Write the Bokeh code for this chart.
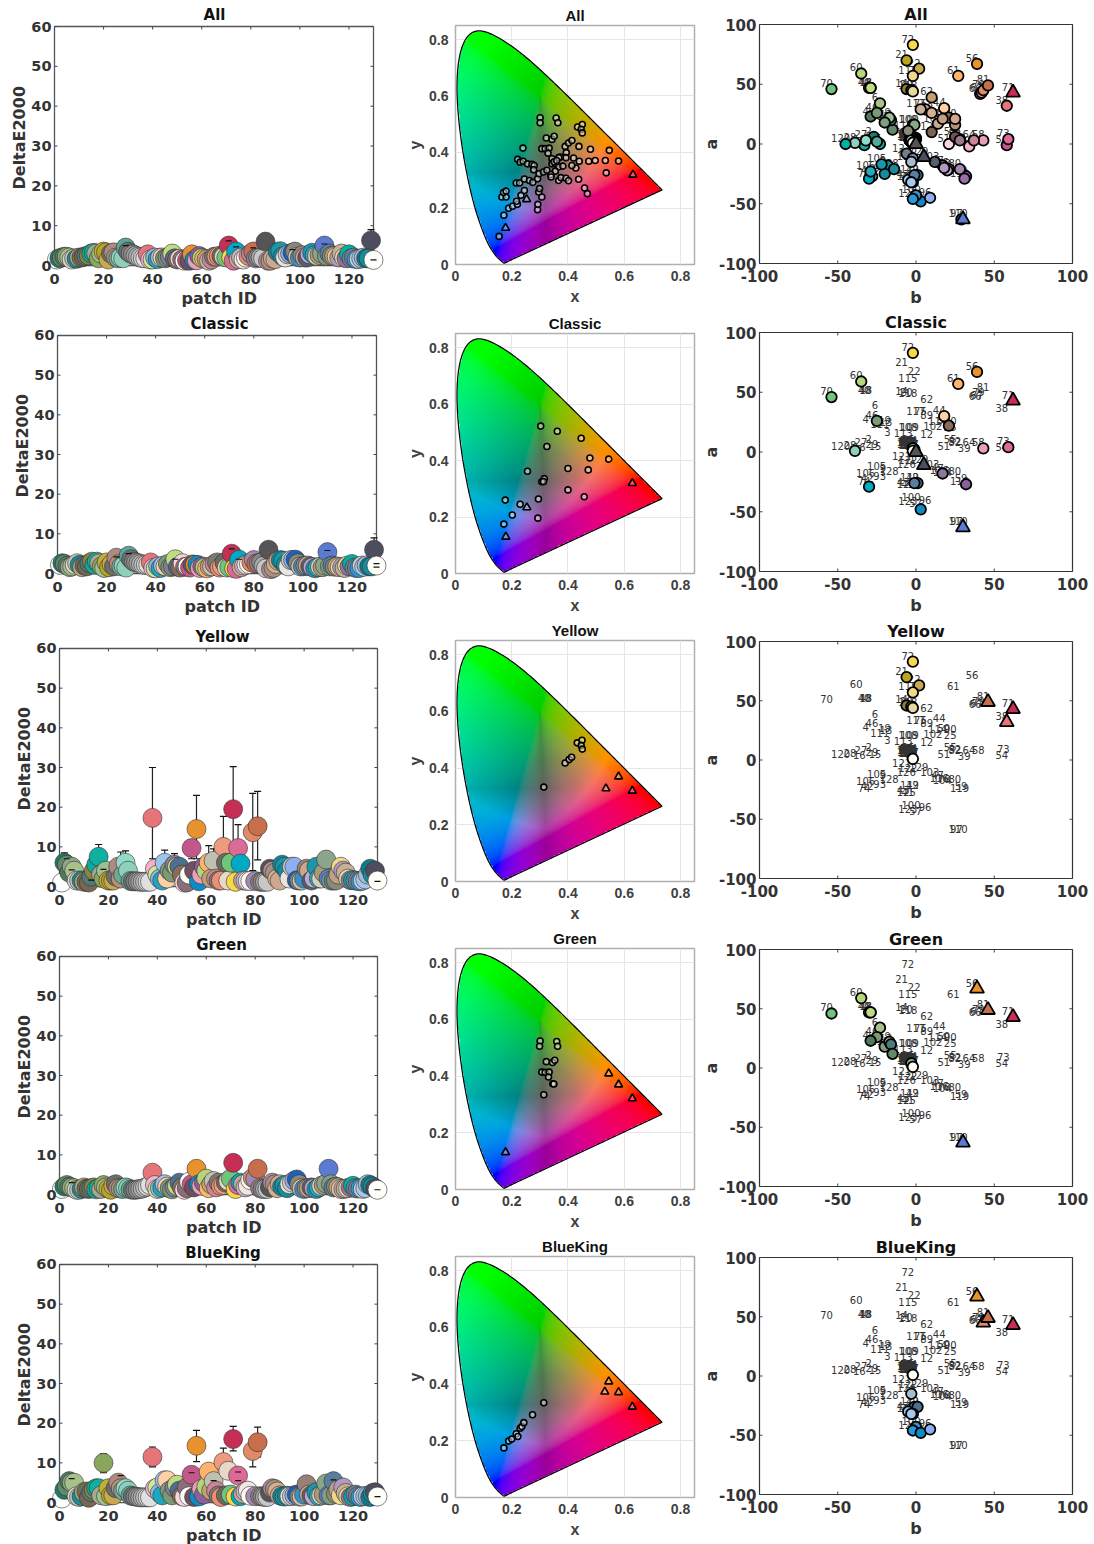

import numpy as np
from bokeh.embed import file_html
from bokeh.resources import INLINE
from bokeh.layouts import column, row
from bokeh.models import FixedTicker, ColumnDataSource, Range1d, Title
from bokeh.plotting import figure
from bokeh.core.properties import value

PANELS = ["All", "Classic", "Yellow", "Green", "BlueKing"]
XTICKS_ID = [0, 20, 40, 60, 80, 100, 120]
YTICKS_DE = [0, 10, 20, 30, 40, 50, 60]
TICKS_XY = [0, 0.2, 0.4, 0.6, 0.8]
TICKS_LAB = [-100, -50, 0, 50, 100]

PATCH_B = [
 -2,-27,-15,-29,-3,-23,-1,-2,-18,-4,
 -3,10,-16,-6,-23,-33,-2,-29,-17,-3,
 -6,2,-3,0,25,-2,-32,-39,-25,-2,
 -1,-3,0,-2,-4,-1,-3,58,34,-30,
 -2,-28,-5,18,-4,-25,17,-29,1,21,
 21,28,-1,58,25,39,3,43,32,-35,
 27,10,-1,37,-2,41,42,-3,-1,-54,
 62,-2,59,-30,6,21,-2,-1,43,28,
 46,28,-3,-2,-1,0,-4,-3,10,25,
 -3,-2,-20,-1,-2,9,29,-4,-3,0,
 -2,14,12,20,-22,-29,-3,-2,-1,30,
 -20,-1,-5,17,-2,18,3,-2,31,-45,
 -6,-2,-2,-3,-3,-3,-1,-14,5,-2]
PATCH_A = [
 1,6,12,23,4,34,2,3,-18,3,
 4,10,20,46,0,-1,3,47,22,45,
 70,63,2,5,16,6,3,1,2,4,
 3,2,4,1,3,2,5,32,-2,47,
 -32,-27,-30,30,4,26,-18,47,-26,22,
 0,4,1,-1,6,67,-48,3,-27,59,
 57,39,3,3,4,42,43,2,4,46,
 43,83,4,-29,29,-21,3,2,45,-21,
 49,3,2,4,1,0,3,5,26,21,
 4,2,-25,3,1,-45,-63,3,5,-43,
 4,17,-15,-22,-17,-23,2,16,16,-63,
 18,-26,11,21,57,-20,29,44,-29,0,
 -8,-12,-46,3,-32,-15,2,-21,-11,1]
PATCH_COLOR = [
 "#ffffff","#1f7a68","#63886a","#4f7a5c","#8fa88a","#a8c08a","#d8d8d0","#c8c8b8","#178a9c","#b0a878",
 "#6e6e58","#7a6555","#4f7a78","#8f8240","#13a898","#10b0a0","#a8a890","#8aa55c","#9cc090","#bfae3a",
 "#b9a520","#c9a94f","#6e6e68","#b08a80","#b78f78","#70a898","#8fdcc8","#8fd0bc","#58a89a","#707070",
 "#808080","#909090","#a0a0a0","#b0b0b0","#c0c0c0","#d0d0d0","#e0e0e0","#e6757a","#f2b3c8","#d0e89a",
 "#90b8e0","#1fa5bd","#9cc4ec","#ffcfa8","#7a9a80","#7a9a70","#8a7a9a","#c0dc80","#4d7090","#8a6a58",
 "#fbd5dc","#8a6f78","#fffdf8","#c2578a","#704f60","#e8922e","#0f8bc4","#e8a0b8","#8a5f9a","#b6d57a",
 "#ffb46e","#c4a070","#c0c0b0","#cc8499","#7a7a70","#ec8f74","#ee9a7e","#6a6a60","#e8d8c8","#6fc67a",
 "#c52f55","#f7d84a","#dd6a96","#00a9c4","#c9a98c","#c8b0d4","#f0e8e0","#fff8f0","#e08a68","#a08ab0",
 "#c76f4c","#9a7a88","#888888","#a8a8a8","#c8c8c8","#555555","#b08898","#a89080","#d4b090","#d0a890",
 "#11879a","#1a98a8","#148ca0","#e8e4e0","#d0ccc4","#8fb0f0","#1f60b8","#888878","#c8c0a8","#3a90c8",
 "#988078","#c8a890","#555e6e","#c0a8d0","#1c97aa","#2aa8c0","#d8d0b8","#a89a78","#8aa58a","#5b7bd0",
 "#7f9f82","#5a7e9e","#8a8a78","#c0a088","#f0d78a","#b09ac0","#c8b098","#e8d9a0","#9a6fa8","#00b0a0",
 "#708090","#70849a","#2a98d8","#c8d0d8","#a4c8ee","#a8bcd0","#0e7a8c","#188a98","#4d4d5e","#fffffa"]

DE_ALL = [
 1.5,1.8,2.0,2.2,2.2,2.0,1.5,1.8,1.7,2.0,
 2.0,2.2,2.4,2.5,3.0,3.2,3.0,1.8,3.0,3.5,
 3.3,1.5,3.0,3.3,2.0,1.8,2.0,1.8,4.5,3.5,
 3.0,2.8,2.5,2.2,2.0,1.8,1.8,2.8,1.5,1.5,
 2.0,1.6,2.0,2.0,1.8,2.0,2.2,3.0,1.8,1.5,
 1.7,1.5,1.2,1.3,1.2,2.8,1.4,1.3,2.4,1.9,
 1.7,1.6,1.2,1.5,2.2,2.2,2.4,2.4,2.2,2.0,
 5.0,2.0,1.2,3.5,1.6,2.0,1.5,2.0,2.4,3.0,
 3.5,1.8,2.0,2.0,1.8,6.0,1.2,1.2,1.8,1.6,
 3.4,3.6,2.3,2.0,2.8,3.0,3.2,3.5,2.2,2.0,
 2.6,2.0,2.0,2.8,3.2,2.6,2.4,2.6,3.0,5.0,
 2.4,3.0,2.4,2.4,2.2,2.0,3.0,2.0,1.8,2.8,
 1.8,2.0,1.6,1.6,1.8,2.0,1.8,1.8,6.3,1.4]
DE_CLASSIC = [
 2.2,2.6,2.4,2.0,1.6,1.8,2.2,2.6,2.2,1.6,
 2.0,1.8,2.6,3.0,2.2,3.0,2.6,1.8,1.4,2.8,
 1.6,2.4,1.8,4.0,2.4,1.8,2.0,1.5,4.5,3.6,
 3.0,2.8,2.6,2.4,2.2,2.2,2.2,2.8,1.4,1.3,
 1.8,1.4,2.0,1.8,2.4,1.6,1.8,3.6,1.7,1.5,
 2.6,1.7,1.8,1.5,2.3,2.2,2.2,1.4,1.8,1.5,
 1.3,1.7,1.8,2.4,2.8,1.5,1.8,2.8,1.5,1.6,
 5.0,1.3,1.2,3.5,1.6,2.0,2.2,2.4,2.8,3.4,
 2.5,2.6,2.8,2.0,1.3,6.0,1.1,1.4,2.4,3.2,
 3.4,3.2,2.2,1.8,3.4,3.4,3.5,2.6,1.8,1.8,
 2.0,2.0,1.8,1.6,1.3,1.6,1.7,1.6,2.0,5.4,
 1.8,2.0,1.7,1.8,1.6,1.6,1.4,2.0,1.8,2.4,
 1.5,1.4,1.4,2.0,1.7,2.1,1.8,1.8,6.0,2.0]
DE_YELLOW = [
 1.0,6.0,5.5,3.5,5.0,4.0,1.5,1.5,1.5,1.2,
 1.2,1.0,2.5,4.0,5.5,7.5,3.0,2.0,4.0,1.5,
 1.5,1.5,2.5,5.0,2.0,3.0,6.0,4.0,1.4,1.3,
 1.3,1.3,1.2,1.2,1.2,1.2,1.2,17.3,4.5,3.0,
 2.0,1.5,6.0,2.0,4.0,3.5,5.5,5.0,5.0,3.0,
 1.0,1.0,3.0,9.7,4.0,14.5,1.3,3.0,5.0,4.0,
 6.0,2.0,6.5,2.0,1.5,1.5,10.0,6.0,1.5,6.0,
 19.5,1.2,9.7,5.8,1.5,1.5,1.4,1.4,13.7,1.4,
 15.2,1.2,1.2,1.2,1.2,4.5,4.0,3.5,2.0,1.5,
 5.5,5.0,4.0,2.0,5.0,5.0,1.6,1.5,1.5,2.0,
 4.5,4.0,1.5,2.0,5.0,2.0,2.0,3.5,6.8,2.0,
 1.5,1.5,1.5,3.0,5.0,4.0,3.5,2.0,1.6,1.6,
 1.5,1.4,1.3,1.5,1.8,3.0,4.5,3.0,4.0,1.5]
DE_GREEN = [
 1.4,2.0,2.4,2.0,1.8,1.6,1.2,1.2,1.4,1.8,
 1.5,1.4,1.6,1.8,1.3,1.6,1.4,2.4,1.8,1.5,
 1.2,2.2,2.6,1.6,1.5,1.4,1.8,1.6,1.3,1.2,
 1.2,1.3,1.4,1.5,1.8,2.0,2.4,5.5,2.4,1.4,
 1.6,1.8,2.6,2.0,1.6,1.3,1.8,2.2,3.0,1.8,
 1.2,1.6,3.2,2.6,1.8,6.5,2.6,2.2,3.0,4.0,
 1.6,2.6,3.4,1.8,3.0,2.2,2.4,3.0,3.4,4.0,
 8.0,1.4,2.4,3.0,2.6,1.8,2.2,3.6,4.2,4.0,
 6.5,1.6,1.4,1.4,1.4,1.8,3.0,2.6,1.6,2.6,
 2.0,2.4,1.6,2.6,3.0,3.5,3.8,2.6,1.6,1.4,
 1.6,1.6,1.8,1.6,1.4,1.8,2.2,2.4,2.8,6.5,
 2.6,1.8,2.0,1.8,1.4,1.4,1.5,1.6,1.8,2.2,
 1.6,1.5,1.6,1.4,1.6,2.6,2.4,2.0,1.6,1.2]
DE_BLUEKING = [
 1.0,3.2,4.0,5.4,5.0,5.0,1.6,1.4,1.6,2.6,
 2.8,1.2,2.6,3.2,3.6,3.6,1.8,10.0,1.6,3.6,
 1.8,1.8,3.6,5.0,3.6,3.0,3.6,3.0,1.8,1.6,
 1.5,1.4,1.3,1.3,1.3,1.3,1.3,11.5,3.5,3.8,
 2.4,1.8,5.6,5.6,3.0,1.8,3.8,4.5,3.0,1.6,
 1.4,3.8,1.6,7.0,1.4,14.3,1.5,3.4,2.0,4.0,
 7.8,3.0,5.4,3.0,1.8,1.4,10.2,1.8,8.0,2.0,
 16.0,1.5,6.8,1.6,2.2,2.8,3.0,1.7,13.0,1.6,
 15.2,1.6,1.5,1.4,1.4,2.5,3.6,3.4,2.8,1.8,
 1.6,1.5,1.7,1.6,1.6,1.8,2.0,1.5,1.5,2.0,
 4.6,2.0,1.8,1.6,2.6,1.6,1.8,2.0,4.8,1.8,
 1.8,5.4,2.2,3.2,1.8,3.8,2.4,1.6,1.4,1.6,
 2.0,1.6,1.4,1.6,1.6,1.6,1.4,2.4,2.6,1.5]

ERR_IDS = [[86,129],[86,129,110],
           [2,16,25,27,38,43,47,54,56,61,63,67,71,73,79,81],[38,56,71,81],
           [18,38,56,67,71,79,81]]
ERR_LOW = [[5.0,5.5],[5.0,5.5,4.7],
           [4.5,5.0,4.0,5.0,7.0,4.0,5.0,7.0,7.0,4.0,4.5,4.0,9.0,6.0,4.0,6.7],[4.5,5.0,6.5,5.5],
           [7.5,9.0,10.3,8.0,13.0,9.0,11.5]]
ERR_HIGH = [[8.0,9.0],[8.0,9.0,5.8],
            [8.5,10.6,8.7,9.0,30.0,9.2,8.3,9.0,23.0,10.3,9.5,17.7,30.2,15.6,23.5,24.0],[6.5,8.0,9.6,8.0],
            [12.3,14.0,18.2,13.7,19.2,16.0,19.0]]
CAP_IDS = [[29,71,74,81,97,110,130],[24,29,48,71,74,110,130,130],
           [3,5,13,18,130],[5,130],[5,25,54,63,73,73,112,130]]
CAP_VAL = [[5.0,6.2,4.7,4.4,4.0,5.4,1.4],[4.2,5.0,3.6,6.2,3.6,5.8,2.5,1.6],
           [7.0,4.2,1.6,4.3,1.3],[3.0,1.2],[6.0,6.8,7.5,5.5,7.7,5.5,5.7,1.5]]

LAB_CIRCLES = [
 [i for i in range(1, 131) if i not in (71, 86, 110, 129)],
 [72,56,61,60,70,46,44,50,58,73,28,74,49,112,59,47,57,7,8,17,130],
 [72,21,22,115,14,20,118,130],
 [60,18,40,48,70,6,46,4,111,19,13,3,5,130],
 [130,126,112,49,43,41,125,100,123,57,96],
]
LAB_TRIANGLES = [[71,86,110,129],[71,86,110,129],[38,71,81],[56,81,71,110],[56,79,81,71]]

XY_X = [
 [.155,.172,.189,.203,.22,.217,.233,.245,.292,.293,.307,.296,.299,.216,.228,.245,.263,.275,.292,.165,.18,.171,.18,.221,.23,.241,.256,.272,.28,.278,.24,.301,.301,.358,.364,.323,.343,.351,.307,.319,.333,.329,.39,.402,.414,.394,.434,.451,.447,.451,.439,.48,.547,.58,.533,.497,.474,.44,.428,.414,.42,.393,.373,.367,.343,.343,.355,.367,.382,.355,.339,.34,.367,.375,.393,.402,.438,.536,.459,.469,.297,.313,.325,.35,.36],
 [.172,.177,.202,.23,.256,.293,.295,.303,.362,.447,.325,.478,.545,.472,.4,.4,.458,.316,.307,.313],
 [.314,.39,.404,.413,.433,.45,.447,.451],
 [.301,.299,.36,.363,.323,.345,.353,.307,.319,.333,.331,.346,.35,.314],
 [.172,.189,.2,.216,.222,.23,.236,.243,.274,.314],
]
XY_Y = [
 [.10,.175,.2,.207,.214,.225,.246,.263,.195,.214,.24,.258,.27,.29,.29,.304,.299,.292,.305,.24,.24,.256,.261,.374,.364,.367,.358,.356,.352,.337,.414,.522,.504,.521,.504,.45,.445,.456,.412,.412,.414,.396,.42,.432,.441,.398,.489,.498,.481,.468,.42,.41,.406,.368,.37,.37,.367,.367,.343,.352,.379,.38,.382,.38,.376,.358,.358,.347,.35,.332,.32,.311,.299,.309,.307,.298,.303,.326,.272,.252,.323,.329,.335,.365,.37],
 [.175,.26,.207,.245,.362,.196,.264,.522,.504,.479,.45,.409,.405,.367,.372,.296,.272,.336,.325,.326],
 [.333,.418,.43,.438,.489,.498,.48,.467],
 [.524,.505,.522,.505,.451,.448,.456,.414,.413,.414,.397,.373,.372,.334],
 [.175,.199,.206,.225,.215,.244,.25,.264,.292,.334],
]
XY_TRI_X = [[.178,.253,.631],[.179,.254,.629],[.58,.535,.629],[.545,.58,.629,.178],[.545,.531,.58,.629]]
XY_TRI_Y = [[.13,.232,.319],[.13,.234,.32],[.37,.328,.32],[.409,.37,.321,.131],[.409,.373,.371,.32]]

LOCUS_X = [.1741,.1733,.1714,.1689,.1644,.1566,.1440,.1241,.1096,.0913,.0687,.0454,.0235,.0082,.0039,.0139,.0389,.0743,.1142,.1547,.1929,.2296,.2658,.3016,.3373,.3731,.4087,.4441,.4788,.5125,.5448,.5752,.6029,.6270,.6658,.6915,.7079,.7260,.7347]
LOCUS_Y = [.0050,.0048,.0051,.0069,.0109,.0177,.0297,.0578,.0868,.1327,.2007,.2950,.4127,.5384,.6548,.7502,.8120,.8338,.8262,.8059,.7816,.7543,.7243,.6923,.6589,.6245,.5896,.5547,.5202,.4866,.4544,.4242,.3965,.3725,.3340,.3083,.2920,.2740,.2653]

DE_SERIES = [DE_ALL, DE_CLASSIC, DE_YELLOW, DE_GREEN, DE_BLUEKING]
for arr in [PATCH_B, PATCH_A, PATCH_COLOR] + DE_SERIES:
    assert len(arr) == 130, len(arr)
IDS = list(range(1, 131))

# layout in page pixels (page origin at 0, 0)
C1_T = [26, 334, 647, 955, 1263]; C1_B = [265, 573, 886, 1194, 1502]
C1_L = [54, 57, 59, 59, 59]; C1_R = [373, 376, 377, 377, 377]
C2_T = [25, 333, 640, 948, 1256]; C2_B = [264, 573, 881, 1189, 1497]
C3_T = [24, 332, 641, 949, 1257]; C3_B = [263, 571, 878, 1186, 1494]
EXT_L = 11
EXT_RIGHT = [12, 16, 19, 17, 20]
EXT_B = 7
EXT_T = 2
PAGE_BOTTOM = 1544
DARK = "#333333"
COL2_L, COL3_L = 400, 697


def tops(T, gap):
    return [0] + [t - gap for t in T[1:]] + [PAGE_BOTTOM]


def base_fig(xr, yr, L, R, T, B, col_l, col_r, fig_t, fig_b, title, font, tsize, title_standoff):
    p = figure(x_range=Range1d(*xr), y_range=Range1d(*yr), width=col_r - col_l, height=fig_b - fig_t,
               min_border_left=L - col_l, min_border_right=col_r - R,
               min_border_top=T - fig_t, min_border_bottom=fig_b - B,
               output_backend="svg", toolbar_location=None, title=title)
    p.frame_align = False
    p.title.align = "center"
    p.title.text_font = font
    p.title.text_font_size = tsize
    p.title.text_font_style = "bold"
    p.title.text_color = "#111111"
    p.title.standoff = title_standoff
    p.title.text_line_height = 1.0
    p.background_fill_color = "white"
    p.border_fill_color = None
    return p


def style_axis(ax, ticks, font, size, color=DARK):
    ax.ticker = FixedTicker(ticks=ticks)
    ax.major_label_text_font = font
    ax.major_label_text_font_size = size
    ax.major_label_text_font_style = "bold"
    ax.major_label_text_color = color
    ax.minor_tick_line_color = None
    ax.major_tick_in = 0
    ax.major_tick_out = 0
    ax.major_tick_line_color = None
    ax.axis_line_color = None


def side_title(p, text, side, font, color=DARK, align="center", offset=0, standoff=0):
    p.add_layout(Title(text=text, align=align, offset=offset, standoff=standoff, text_font=font,
                       text_font_size="16px", text_font_style="bold", text_color=color,
                       text_line_height=1.0), side)


def de_panel(i):
    L, R, T, B = C1_L[i], C1_R[i], C1_T[i], C1_B[i]
    ys = tops(C1_T, 22)
    ppx = (R - L) / 130
    ppy = (B - T) / 60
    xr = (-EXT_L / ppx, 130 + EXT_RIGHT[i] / ppx)
    yr = (-EXT_B / ppy, 60 + EXT_T / ppy)
    font = "DejaVu Sans"
    p = base_fig(xr, yr, L - EXT_L, R + EXT_RIGHT[i], T - EXT_T, B + EXT_B, 0, COL2_L, ys[i], ys[i + 1],
                 PANELS[i], font, "15px", 1)
    p.outline_line_color = None
    p.grid.visible = False
    for ax, ticks in ((p.xaxis[0], XTICKS_ID), (p.yaxis[0], YTICKS_DE)):
        style_axis(ax, ticks, font, "14.5px")
    p.xaxis[0].major_label_standoff = 1
    p.yaxis[0].major_label_standoff = -8
    # "patch ID" is about 77 px wide and starts left of the label centre
    side_title(p, "patch ID", "below", font, align="left", offset=(L + R) / 2 + 6 - 38.5 - (L - EXT_L))
    side_title(p, "DeltaE2000", "left", font, align="left", offset=B + EXT_B - (T + 163), standoff=0)
    # box and inward ticks
    p.segment([0, 0, 0, 130], [0, 60, 0, 0], [130, 130, 0, 130], [0, 60, 60, 60], line_color="#555555", line_width=1.3)
    dy, dx = 3 / ppy, 3 / ppx
    p.segment(XTICKS_ID, [60] * 7, XTICKS_ID, [60 - dy] * 7, line_color="#444444", line_width=1)
    p.segment(XTICKS_ID, [0] * 7, XTICKS_ID, [dy] * 7, line_color="#444444", line_width=1)
    p.segment([130] * 7, YTICKS_DE, [130 - dx] * 7, YTICKS_DE, line_color="#444444", line_width=1)
    p.segment([0] * 7, YTICKS_DE, [dx] * 7, YTICKS_DE, line_color="#444444", line_width=1)
    ids, low, high = ERR_IDS[i], ERR_LOW[i], ERR_HIGH[i]
    p.segment(ids, low, ids, high, line_color="#222222", line_width=1.2)
    p.scatter(ids, high, marker="dash", size=7, line_color="#111111", line_width=1.2)
    p.scatter(ids, low, marker="dash", size=7, line_color="#111111", line_width=1.2)
    src = ColumnDataSource(dict(x=IDS, y=DE_SERIES[i], c=PATCH_COLOR))
    p.scatter("x", "y", source=src, size=19, fill_color="c", line_color="#333333", line_width=0.6)
    p.scatter(CAP_IDS[i], CAP_VAL[i], marker="dash", size=6, line_color="#111111", line_width=1.2)
    return p


def chaikin(x, y, n=2):
    pts = np.column_stack([x, y])
    for _ in range(n):
        q = 0.75 * pts[:-1] + 0.25 * pts[1:]
        r = 0.25 * pts[:-1] + 0.75 * pts[1:]
        mid = np.empty((2 * len(q), 2))
        mid[0::2] = q
        mid[1::2] = r
        pts = np.vstack([pts[:1], mid, pts[-1:]])
    return pts[:, 0], pts[:, 1]


CURVE_X, CURVE_Y = chaikin(LOCUS_X, LOCUS_Y)
CURVE_X = np.append(CURVE_X, CURVE_X[0])
CURVE_Y = np.append(CURVE_Y, CURVE_Y[0])


def gamut_image():
    n = 340
    xs = np.linspace(0, 0.85, n)
    ys = np.linspace(0, 0.85, n)
    X, Y = np.meshgrid(xs, ys)
    px, py = CURVE_X, CURVE_Y
    inside = np.zeros_like(X, dtype=bool)
    for k in range(len(px) - 1):
        x0, y0, x1, y1 = px[k], py[k], px[k + 1], py[k + 1]
        if y0 == y1:
            continue
        cond = (y0 > Y) != (y1 > Y)
        xint = (x1 - x0) * (Y - y0) / (y1 - y0) + x0
        inside ^= cond & (X < xint)
    yy = np.maximum(Y, 1e-3)
    dist = np.hypot(X - 0.33, Y - 0.33)
    lum = 0.33 + 0.6 * np.maximum(dist - 0.1, 0)
    XX = X / yy * lum
    ZZ = (1 - X - Y) / yy * lum
    R = 3.2406 * XX - 1.5372 * lum - 0.4986 * ZZ
    G = -0.9689 * XX + 1.8758 * lum + 0.0415 * ZZ
    B = 0.0557 * XX - 0.2040 * lum + 1.0570 * ZZ
    rgb = np.clip(np.stack([R, G, B], -1), 0, None)
    m = np.maximum(rgb.max(-1, keepdims=True), 1)
    rgb = rgb / m
    r, g, b = rgb[..., 0], rgb[..., 1], rgb[..., 2]
    magenta = np.minimum(r, b) / np.maximum(np.maximum(r, b), 1e-6)
    cyan = np.minimum(g, b) / np.maximum(np.maximum(g, b), 1e-6)
    dim = (1 - 0.4 * magenta * (1 - g)) * (1 - 0.25 * cyan * (1 - r))
    rgb = np.where(rgb <= 0.0031308, 12.92 * rgb, 1.055 * np.maximum(rgb, 1e-9) ** (1 / 2.4) - 0.055)
    rgb = rgb * dim[..., None]
    img = np.zeros((n, n, 4), dtype=np.uint8)
    img[..., :3] = np.round(np.clip(rgb, 0, 1) * 255).astype(np.uint8)
    img[..., 3] = np.where(inside, 255, 0)
    return img.view(dtype=np.uint32).reshape(n, n)


GAMUT = gamut_image()


def xy_panel(i):
    ys = tops(C2_T, 24)
    font = "Liberation Sans"
    T, B = C2_T[i], C2_B[i]
    p = base_fig((0, 0.85), (0, 0.85), 455, 694, T, B, COL2_L, COL3_L, ys[i], ys[i + 1], PANELS[i], font, "15px", 3)
    p.outline_line_color = "#b0b0b0"
    p.outline_line_width = 1.5
    for ax, ticks in ((p.xaxis[0], TICKS_XY), (p.yaxis[0], TICKS_XY)):
        style_axis(ax, ticks, font, "14px", color="#404040")
        ax.major_label_overrides = {0: "0"}
    p.xaxis[0].major_label_standoff = 6
    p.yaxis[0].major_label_standoff = 7
    side_title(p, "x", "below", font, "#404040", standoff=5)
    side_title(p, "y", "left", font, "#404040", standoff=6)
    p.grid.ticker = FixedTicker(ticks=TICKS_XY)
    p.grid.grid_line_color = "#e6e6e6"
    p.image_rgba(image=[GAMUT], x=0, y=0, dw=0.85, dh=0.85, level="glyph")
    p.line(CURVE_X.tolist(), CURVE_Y.tolist(), line_color="black", line_width=1.2)
    p.scatter(XY_X[i], XY_Y[i], marker="circle", size=6, fill_color="white", fill_alpha=0.45,
              line_color="black", line_width=1.6)
    p.scatter(XY_TRI_X[i], XY_TRI_Y[i], marker="triangle", size=8, fill_color="white", fill_alpha=0.3,
              line_color="black", line_width=1.6)
    return p


def lab_panel(i):
    ys = tops(C3_T, 24)
    font = "DejaVu Sans"
    T, B = C3_T[i], C3_B[i]
    p = base_fig((-100, 100), (-100, 100), 759, 1072, T, B, COL3_L, 1094, ys[i], ys[i + 1], PANELS[i], font, "16px", 2)
    p.outline_line_color = "#333333"
    p.outline_line_width = 1.2
    p.grid.visible = False
    for ax in (p.xaxis[0], p.yaxis[0]):
        style_axis(ax, TICKS_LAB, font, "15px")
        ax.major_label_overrides = {-100: "-100", -50: "-50"}
    p.xaxis[0].major_label_standoff = 6
    p.yaxis[0].major_label_standoff = 3
    side_title(p, "b", "below", font, standoff=3)
    side_title(p, "a", "left", font, standoff=-10)
    dy, dx = 3 * 200 / (B - T), 3 * 200 / 313
    for end, sign in ((100, -1), (-100, 1)):
        p.segment(TICKS_LAB, [end] * 5, TICKS_LAB, [end + sign * dy] * 5, line_color="#444444", line_width=1)
        p.segment([end] * 5, TICKS_LAB, [end + sign * dx] * 5, TICKS_LAB, line_color="#444444", line_width=1)
    p.text(PATCH_B, PATCH_A, text=[str(k) for k in IDS], text_font=value("DejaVu Sans"),
           text_font_size="10px", text_color="#333333", text_align="center", text_baseline="middle",
           x_offset=-5, y_offset=-6)
    cids = LAB_CIRCLES[i]
    tids = LAB_TRIANGLES[i]
    p.scatter([PATCH_B[k - 1] for k in cids], [PATCH_A[k - 1] for k in cids], marker="circle", size=10.5,
              fill_color=[PATCH_COLOR[k - 1] for k in cids], line_color="black", line_width=1.8)
    p.scatter([PATCH_B[k - 1] for k in tids], [PATCH_A[k - 1] for k in tids], marker="triangle", size=14,
              fill_color=[PATCH_COLOR[k - 1] for k in tids], line_color="black", line_width=1.8)
    return p


c1 = column(*[de_panel(i) for i in range(5)], spacing=0)
c2 = column(*[xy_panel(i) for i in range(5)], spacing=0)
c3 = column(*[lab_panel(i) for i in range(5)], spacing=0)
page = row(c1, c2, c3, spacing=0)
open("out.html", "w").write(file_html(page, INLINE))
